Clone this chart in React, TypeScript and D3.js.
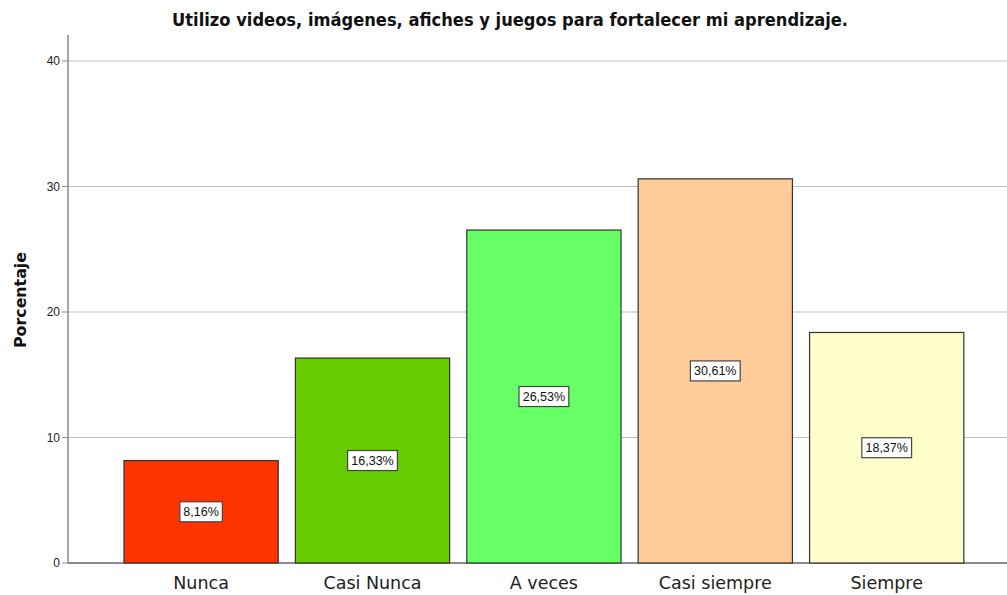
import React from "react";
import * as d3 from "d3";

const categories = ["Nunca", "Casi Nunca", "A veces", "Casi siempre", "Siempre"];
const values = [8.16, 16.33, 26.53, 30.61, 18.37];
const colors = ["#FF3300", "#66CC00", "#66FF66", "#FFCC99", "#FFFFCC"];
const yTicks = [0, 10, 20, 30, 40];
const title = "Utilizo videos, imágenes, afiches y juegos para fortalecer mi aprendizaje.";
const yLabel = "Porcentaje";

const W = 1007;
const H = 595;
const font = "'Liberation Sans', Arial, sans-serif";
const wideFont = "'DejaVu Sans', 'Liberation Sans', sans-serif";

export default function App() {
  const axisX = 68;
  const axisTop = 35;
  const y = d3.scaleLinear().domain([0, 40]).range([563, 61]);
  const x = d3
    .scaleBand<string>()
    .domain(categories)
    .range([115.4, 972.4])
    .paddingInner(0.1)
    .paddingOuter(0.05);
  const fmt = (v: number) => v.toFixed(2).replace(".", ",") + "%";

  return (
    <svg
      width={W}
      height={H}
      style={{ position: "absolute", left: 0, top: 0, background: "#fff" }}
      fontFamily={font}
    >
      <rect x={0} y={0} width={W} height={H} fill="#fff" />
      <text
        x={510}
        y={26}
        textAnchor="middle"
        fontSize={17}
        fontWeight="bold"
        fill="#111"
        fontFamily={wideFont}
        textLength={676}
        lengthAdjust="spacingAndGlyphs"
      >
        {title}
      </text>
      {yTicks.map((t) => (
        <g key={t}>
          {t > 0 && (
            <line x1={axisX} x2={W} y1={y(t)} y2={y(t)} stroke="#bdbdbd" strokeWidth={1} />
          )}
          <line x1={axisX - 6} x2={axisX} y1={y(t)} y2={y(t)} stroke="#888" strokeWidth={1} />
          <text x={axisX - 8} y={y(t) + 4} textAnchor="end" fontSize={12} fill="#222">
            {t}
          </text>
        </g>
      ))}
      <line x1={axisX} x2={axisX} y1={axisTop} y2={y(0)} stroke="#888" strokeWidth={1.5} />
      <line x1={axisX} x2={W} y1={y(0)} y2={y(0)} stroke="#666" strokeWidth={1.5} />
      <text
        transform={`translate(26,${300}) rotate(-90)`}
        textAnchor="middle"
        fontSize={16}
        fontWeight="bold"
        fill="#111"
        fontFamily={wideFont}
        textLength={96}
        lengthAdjust="spacingAndGlyphs"
      >
        {yLabel}
      </text>
      {categories.map((c, i) => {
        const bx = x(c)!;
        const bw = x.bandwidth();
        const top = y(values[i]);
        const cy = y(values[i] / 2);
        const cx = bx + bw / 2;
        const label = fmt(values[i]);
        const boxW = label.length * 7.3 + 6;
        return (
          <g key={c}>
            <rect
              x={bx}
              y={top}
              width={bw}
              height={y(0) - top}
              fill={colors[i]}
              stroke="#333"
              strokeWidth={1.2}
            />
            <rect
              x={cx - boxW / 2}
              y={cy - 10}
              width={boxW}
              height={20}
              fill="#fff"
              stroke="#444"
              strokeWidth={1.2}
            />
            <text x={cx} y={cy + 4.5} textAnchor="middle" fontSize={12.5} fill="#111">
              {label}
            </text>
            <text
              x={cx}
              y={589}
              textAnchor="middle"
              fontSize={17.5}
              fill="#222"
              fontFamily={wideFont}
            >
              {c}
            </text>
          </g>
        );
      })}
    </svg>
  );
}
